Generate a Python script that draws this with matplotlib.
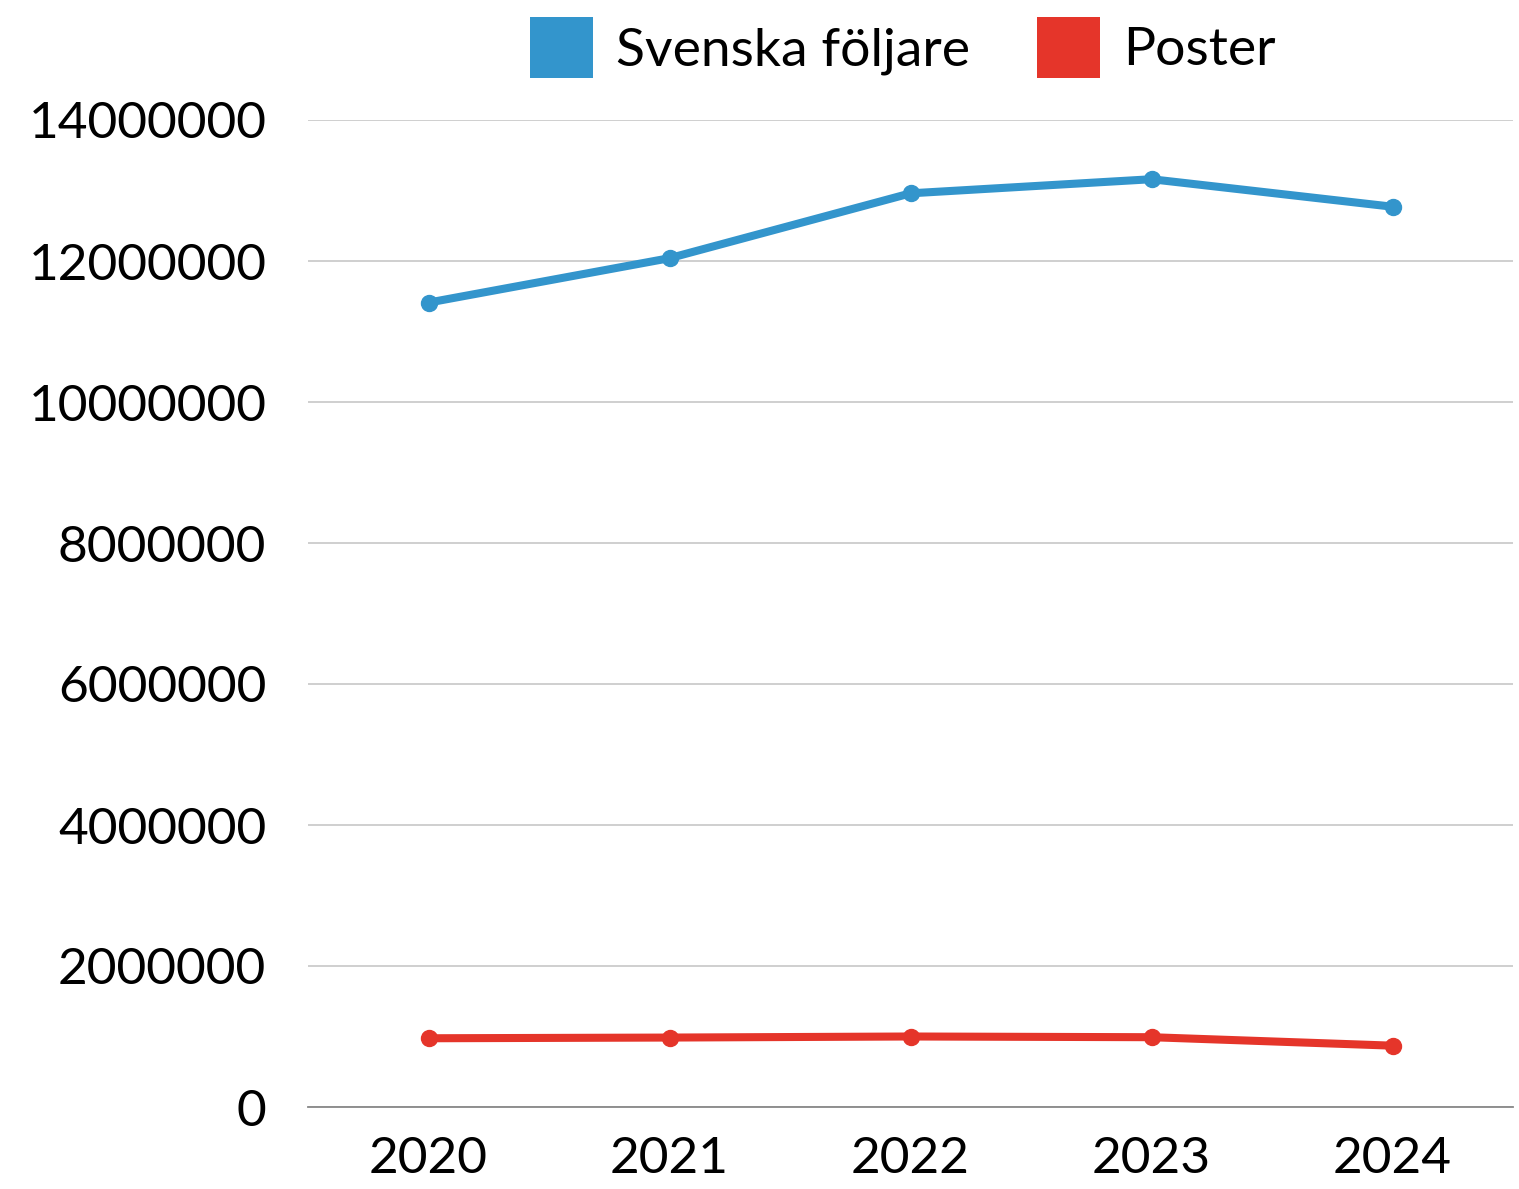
import matplotlib
matplotlib.use("Agg")
import matplotlib.pyplot as plt
from matplotlib.patches import Patch

years = ["2020", "2021", "2022", "2023", "2024"]
svenska_foljare = [11410000, 12040000, 12960000, 13160000, 12770000]
poster = [975000, 985000, 1000000, 990000, 870000]
yticks = [0, 2000000, 4000000, 6000000, 8000000, 10000000, 12000000, 14000000]

blue = "#3395cc"
red = "#e5352a"

plt.rcParams['font.family'] = ['Lato', 'DejaVu Sans']

fig = plt.figure(figsize=(15.19, 11.89), dpi=100)
ax = fig.add_axes([308/1519, 1 - 1107/1189, (1513-308)/1519, (1107-120)/1189])

x = list(range(len(years)))
ax.plot(x, svenska_foljare, color=blue, lw=5.8, marker='o', ms=11.5, solid_capstyle='round')
ax.plot(x, poster, color=red, lw=5.8, marker='o', ms=11.5, solid_capstyle='round')

ax.set_xlim(-0.5, 4.5)
ax.set_ylim(0, 14000000)
ax.set_xticks(x)
ax.set_xticklabels(years)
ax.set_yticks(yticks)
ax.set_yticklabels([str(v) for v in yticks])
ax.tick_params(axis='both', length=0, labelsize=37)
ax.tick_params(axis='y', pad=30)
ax.tick_params(axis='x', pad=21)
ax.grid(axis='y', color='#cccccc', lw=1.3)
ax.set_axisbelow(True)
for s in ['left', 'right', 'top']:
    ax.spines[s].set_visible(False)
ax.spines['bottom'].set_color('#888888')
ax.spines['bottom'].set_linewidth(1.3)

handles = [Patch(facecolor=blue, edgecolor='none', label='Svenska följare'),
           Patch(facecolor=red, edgecolor='none', label='Poster')]
fig.legend(handles=handles, loc='upper center', bbox_to_anchor=(903/1519, 1 - 17/1189),
           ncol=2, frameon=False, fontsize=38.5, handlelength=1.18, handleheight=1.38,
           handletextpad=0.43, columnspacing=1.25, borderaxespad=0.0, borderpad=0.0)

fig.savefig("out.png", dpi=100)
